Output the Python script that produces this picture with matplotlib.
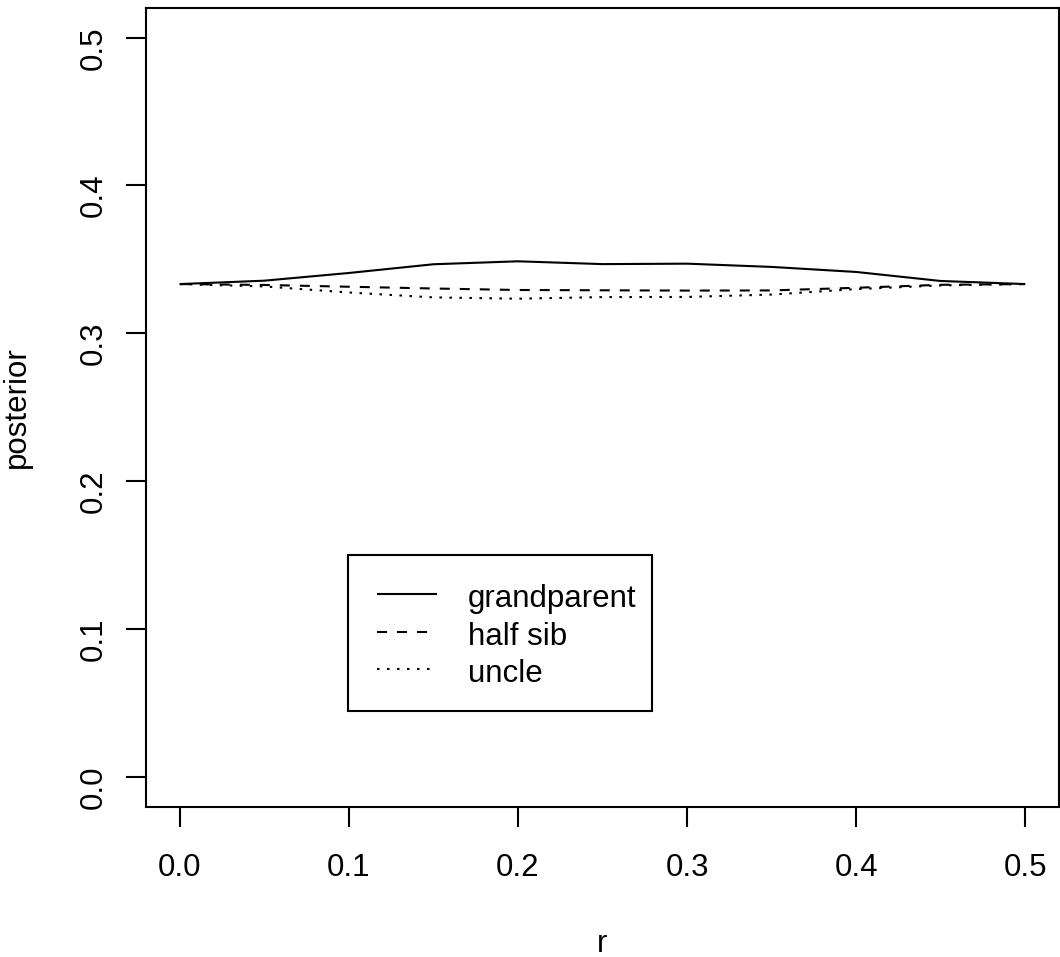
import matplotlib
matplotlib.use("Agg")
import matplotlib.pyplot as plt
from matplotlib.patches import Rectangle

# ---- data ----
r_values = [0.0, 0.05, 0.10, 0.15, 0.20, 0.25, 0.30, 0.35, 0.40, 0.45, 0.50]
grandparent = [0.3333, 0.3356, 0.3408, 0.3467, 0.3487, 0.3468, 0.3471, 0.3449, 0.3415, 0.3354, 0.3333]
half_sib = [0.3333, 0.3327, 0.3315, 0.3303, 0.3293, 0.3291, 0.3289, 0.3290, 0.3308, 0.3328, 0.3333]
uncle = [0.3333, 0.3317, 0.3276, 0.3243, 0.3234, 0.3245, 0.3246, 0.3262, 0.3299, 0.3324, 0.3333]
series_names = ["grandparent", "half sib", "uncle"]
xtick_values = [0.0, 0.1, 0.2, 0.3, 0.4, 0.5]
ytick_values = [0.0, 0.1, 0.2, 0.3, 0.4, 0.5]
xtick_labels = ["0.0", "0.1", "0.2", "0.3", "0.4", "0.5"]
ytick_labels = ["0.0", "0.1", "0.2", "0.3", "0.4", "0.5"]

plt.rcParams['font.family'] = ['Liberation Sans', 'DejaVu Sans']
FS = 22.5
LW = 1.5

W, H = 1060, 957
fig = plt.figure(figsize=(W / 100, H / 100), dpi=100)
L, R, T, B = 146, 1059, 8, 806.5
ax = fig.add_axes([L / W, (H - B) / H, (R - L) / W, (B - T) / H])

styles = ['-', (0, (4.8, 4.8)), (0, (1.2, 3.6))]
for vals, ls in zip([grandparent, half_sib, uncle], styles):
    ax.plot(r_values, vals, color='black', lw=LW, linestyle=ls,
            dash_capstyle='butt', solid_capstyle='butt')

ax.set_xlim(-0.02, 0.52)
ax.set_ylim(-0.02, 0.52)
ax.set_xticks(xtick_values)
ax.set_xticklabels(xtick_labels)
ax.set_yticks(ytick_values)
ax.set_yticklabels(ytick_labels, rotation=90)
for lab in ax.get_xticklabels():
    lab.set_va('center')
for lab in ax.get_yticklabels():
    lab.set_ha('center')
ax.tick_params(axis='x', length=14.4, width=LW, pad=30.0, labelsize=FS, direction='out')
ax.tick_params(axis='y', length=14.4, width=LW, pad=23, labelsize=FS, direction='out')
for s in ax.spines.values():
    s.set_linewidth(LW)

ax.set_xlabel("r", fontsize=FS, va='baseline')
ax.xaxis.set_label_coords(0.5, (B - 952) / (B - T))
ax.set_ylabel("posterior", fontsize=FS, va='center')
ax.yaxis.set_label_coords((17 - L) / (R - L), 0.5)

# ---- legend (manual, R style) ----
def ax_x(px):
    return (px - L) / (R - L)

def ax_y(py):
    return (B - py) / (B - T)

box = Rectangle((ax_x(348), ax_y(711)), ax_x(652) - ax_x(348), ax_y(555) - ax_y(711),
                transform=ax.transAxes, fill=False, edgecolor='black', lw=LW)
ax.add_patch(box)
row_y = [594, 632, 669]
for name, ls, yy in zip(series_names, styles, row_y):
    ax.plot([ax_x(377), ax_x(437)], [ax_y(yy), ax_y(yy)], transform=ax.transAxes,
            color='black', lw=LW, linestyle=ls, dash_capstyle='butt', solid_capstyle='butt')
    ax.text(ax_x(468), ax_y(yy + 13), name, transform=ax.transAxes, fontsize=FS,
            ha='left', va='baseline')

fig.savefig("out.png", dpi=100)
